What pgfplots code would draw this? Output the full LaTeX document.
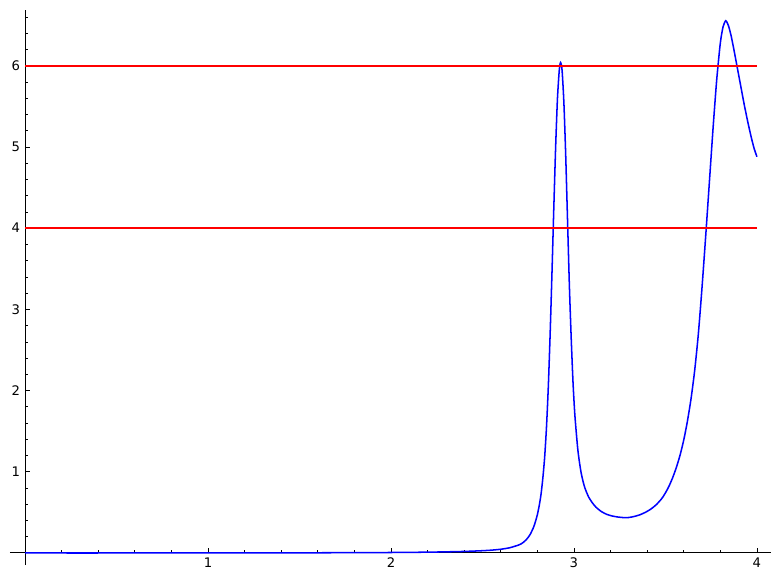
\documentclass[border=0pt]{standalone}
\usepackage{fontspec}
\setmainfont{DejaVu Sans}
\usepackage{pgfplots}
\pgfplotsset{compat=1.18}
\pgfplotstableread{
x y
0.00 0.000
0.50 0.000
1.00 0.001
1.50 0.002
1.80 0.004
2.00 0.006
2.20 0.010
2.30 0.014
2.40 0.019
2.50 0.028
2.55 0.035
2.60 0.046
2.65 0.065
2.70 0.100
2.72 0.125
2.74 0.165
2.76 0.225
2.78 0.320
2.79 0.390
2.80 0.470
2.81 0.580
2.82 0.720
2.83 0.920
2.84 1.180
2.85 1.550
2.86 2.050
2.87 2.700
2.88 3.450
2.89 4.250
2.90 5.000
2.91 5.600
2.92 5.950
2.927 6.040
2.935 5.950
2.945 5.550
2.955 4.900
2.965 4.100
2.975 3.300
2.985 2.650
2.995 2.100
3.005 1.700
3.02 1.300
3.03 1.120
3.04 0.980
3.05 0.880
3.06 0.800
3.08 0.690
3.10 0.620
3.12 0.565
3.15 0.510
3.18 0.475
3.21 0.455
3.24 0.443
3.27 0.436
3.30 0.437
3.33 0.450
3.36 0.470
3.39 0.500
3.42 0.540
3.45 0.595
3.48 0.670
3.50 0.740
3.52 0.825
3.54 0.930
3.56 1.055
3.58 1.205
3.60 1.390
3.62 1.620
3.64 1.900
3.66 2.250
3.68 2.700
3.70 3.270
3.72 3.900
3.74 4.560
3.76 5.220
3.78 5.820
3.80 6.280
3.815 6.480
3.83 6.555
3.845 6.490
3.86 6.360
3.875 6.190
3.89 6.010
3.91 5.770
3.93 5.530
3.95 5.310
3.97 5.110
3.985 4.980
4.00 4.880
}\curve
\begin{document}
\begin{tikzpicture}
\begin{axis}[
  scale only axis,
  width=547.92pt, height=399.6pt,
  xmin=-0.082, xmax=4.077,
  ymin=-0.148, ymax=6.687,
  axis lines=middle,
  axis line style={-, line width=0.7pt},
  xtick={1,2,3,4},
  ytick={1,2,3,4,5,6},
  minor xtick={0.2,0.4,0.6,0.8,1.2,1.4,1.6,1.8,2.2,2.4,2.6,2.8,3.2,3.4,3.6,3.8},
  minor ytick={0.2,0.4,0.6,0.8,1.2,1.4,1.6,1.8,2.2,2.4,2.6,2.8,3.2,3.4,3.6,3.8,4.2,4.4,4.6,4.8,5.2,5.4,5.6,5.8,6.2,6.4,6.6},
  tick align=inside,
  major tick length=3.6pt,
  minor tick length=1.8pt,
  tick style={black, line width=0.5pt},
  ticklabel style={font=\fontsize{9.5}{11}\selectfont},
  /pgf/number format/assume math mode=true,
  clip=false,
]
\addplot[blue, line width=1.1pt, smooth, tension=0.4] table[x=x,y=y] {\curve};
\addplot[red, line width=1.1pt] coordinates {(0,4) (4,4)};
\addplot[red, line width=1.1pt] coordinates {(0,6) (4,6)};
\end{axis}
\pgfresetboundingbox
\path ([shift={(-7.2pt,-13.68pt)}]current axis.south west) rectangle ([shift={(7.2pt,7.2pt)}]current axis.north east);
\end{tikzpicture}
\end{document}
